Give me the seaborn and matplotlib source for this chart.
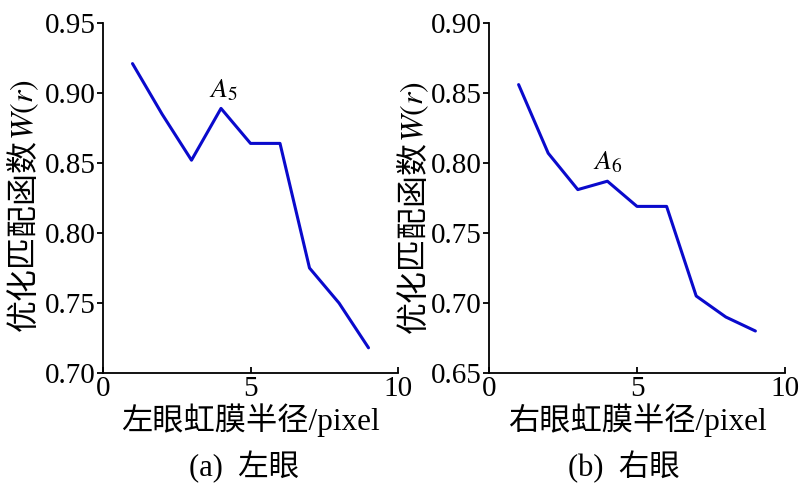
import matplotlib
matplotlib.use("Agg")
import matplotlib.pyplot as plt
import seaborn as sns
import pandas as pd
import numpy as np

# ---- data ----
radius = [1, 2, 3, 4, 5, 6, 7, 8, 9]
left_w = [0.921, 0.885, 0.852, 0.889, 0.864, 0.864, 0.775, 0.750, 0.718]
right_w = [0.856, 0.807, 0.781, 0.787, 0.769, 0.769, 0.705, 0.690, 0.680]
left_yticks = [0.70, 0.75, 0.80, 0.85, 0.90, 0.95]
right_yticks = [0.65, 0.70, 0.75, 0.80, 0.85, 0.90]
xticks = [0, 5, 10]
left_xlabel = "左眼虹膜半径/pixel"
right_xlabel = "右眼虹膜半径/pixel"
ylabel_cjk = "优化匹配函数"
ylabel_sym = "$W(r)$"
left_caption = "(a)  左眼"
right_caption = "(b)  右眼"
left_peak = (4.07, 0.902, "$A_5$")
right_peak = (4.02, 0.800, "$A_6$")

sns.set_theme(style="ticks")
FAM = ["Liberation Serif", "Noto Sans CJK SC", "DejaVu Sans"]
plt.rcParams["font.family"] = FAM
plt.rcParams["mathtext.fontset"] = "stix"
plt.rcParams["axes.unicode_minus"] = False
plt.rcParams["text.color"] = "black"
plt.rcParams["axes.labelcolor"] = "black"
plt.rcParams["xtick.color"] = "black"
plt.rcParams["ytick.color"] = "black"

W, H = 800, 486
fig = plt.figure(figsize=(8.0, 4.86), dpi=100)

def px_axes(x0, x1, ytop, ybot):
    return fig.add_axes([x0 / W, (H - ybot) / H, (x1 - x0) / W, (ybot - ytop) / H])

ax1 = px_axes(103, 398, 23, 373)
ax2 = px_axes(489, 785, 23, 373)

LINE_COLOR = "#0a0acc"
TICK_FS = 21
XLABEL_FS = 22.5
YLABEL_FS = 23
CAP_FS = 22

panels = [
    (ax1, left_w, left_yticks, left_xlabel, left_peak),
    (ax2, right_w, right_yticks, right_xlabel, right_peak),
]

for ax, vals, yt, xl, peak in panels:
    df = pd.DataFrame({"r": radius, "w": vals})
    sns.lineplot(data=df, x="r", y="w", ax=ax, color=LINE_COLOR, linewidth=2.2)
    ax.set_xlim(0, 10)
    ax.set_ylim(yt[0], yt[-1])
    ax.set_xticks(xticks)
    ax.set_yticks(yt)
    ax.set_yticklabels([f"{v:.2f}" for v in yt])
    ax.set_xticklabels([str(v) for v in xticks])
    for s in ["top", "right"]:
        ax.spines[s].set_visible(False)
    for s in ["left", "bottom"]:
        ax.spines[s].set_linewidth(1.3)
        ax.spines[s].set_color("black")
    ax.tick_params(axis="x", direction="in", length=4, width=1.3, pad=2,
                   labelsize=TICK_FS, colors="black")
    ax.tick_params(axis="y", direction="out", length=4, width=1.3, pad=1,
                   labelsize=TICK_FS, colors="black")
    ax.set_xlabel(xl, fontsize=XLABEL_FS, va="center", family=FAM, color="black")
    ax.xaxis.set_label_coords(0.5, -0.134)
    ax.set_ylabel("")
    ax.set_facecolor("white")
    ax.text(peak[0], peak[1], peak[2], fontsize=20, ha="center", va="center",
            color="black")

# y labels: CJK part + italic symbol part, stacked vertically
ylabel_pos = [(25, 331), (415, 333)]  # (x centre px, bottom px from top)
cjk_texts = []
for (xc, yb) in ylabel_pos:
    t = fig.text(xc / W, 1 - yb / H, ylabel_cjk, fontsize=YLABEL_FS, rotation=90,
                 rotation_mode="anchor", ha="left", va="center", family=FAM,
                 color="black")
    cjk_texts.append(t)

fig.canvas.draw()
renderer = fig.canvas.get_renderer()
for t, (xc, yb) in zip(cjk_texts, ylabel_pos):
    bb = t.get_window_extent(renderer)
    fig.text(xc / W, (bb.y1 - 1) / H, ylabel_sym, fontsize=YLABEL_FS, rotation=90,
             rotation_mode="anchor", ha="left", va="center", color="black")

fig.text(244 / W, 1 - 467 / H, left_caption, fontsize=CAP_FS, ha="center",
         va="center", family=FAM, color="black")
fig.text(624 / W, 1 - 467 / H, right_caption, fontsize=CAP_FS, ha="center",
         va="center", family=FAM, color="black")

fig.savefig("out.png", dpi=100, facecolor="white")
